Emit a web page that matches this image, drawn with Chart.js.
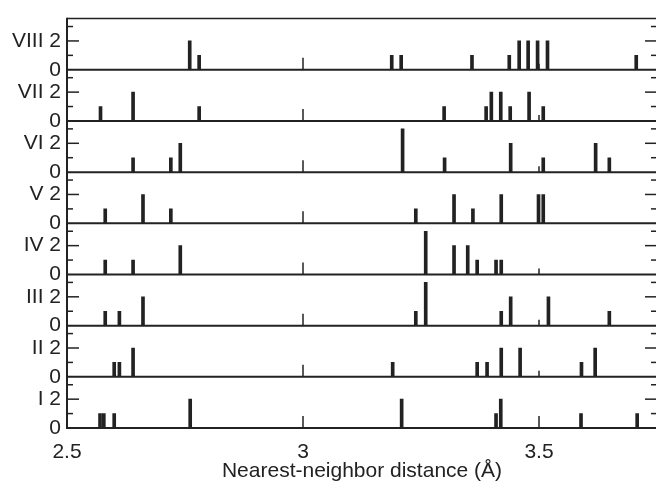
<!DOCTYPE html>
<html><head><meta charset="utf-8">
<script src="https://cdn.jsdelivr.net/npm/chart.js@4.4.1/dist/chart.umd.min.js"></script>
<style>
html,body{margin:0;padding:0;overflow:hidden;background:#fff;width:656px;height:481px}
#wrap{position:relative;width:664px;height:481px}
</style></head>
<body><div id="wrap"><canvas id="c"></canvas></div>
<script>
const panelNames = ['VIII','VII','VI','V','IV','III','II','I'];
const dist8 = [2.760,2.780,3.188,3.208,3.358,3.437,3.458,3.477,3.497,3.518,3.706];
const count8 = [2,1,1,1,1,1,2,2,2,2,1];
const dist7 = [2.571,2.640,2.780,3.299,3.388,3.399,3.419,3.439,3.479,3.509];
const count7 = [1,2,1,1,1,2,2,1,2,1];
const dist6 = [2.640,2.720,2.740,3.211,3.300,3.440,3.509,3.620,3.649];
const count6 = [1,1,2,3,1,2,1,2,1];
const dist5 = [2.581,2.661,2.720,3.239,3.320,3.360,3.420,3.499,3.509];
const count5 = [1,2,1,1,2,1,2,2,2];
const dist4 = [2.581,2.640,2.740,3.260,3.320,3.349,3.369,3.409,3.420];
const count4 = [1,1,2,3,2,2,1,1,1];
const dist3 = [2.581,2.611,2.661,3.239,3.260,3.420,3.440,3.520,3.649];
const count3 = [1,1,2,1,3,1,2,2,1];
const dist2 = [2.600,2.611,2.640,3.190,3.369,3.390,3.420,3.460,3.590,3.619];
const count2 = [1,1,2,1,1,1,2,2,1,2];
const dist1 = [2.570,2.578,2.600,2.761,3.209,3.409,3.419,3.589,3.708];
const count1 = [1,1,1,2,2,1,2,1,1];

const panelDist = [dist8,dist7,dist6,dist5,dist4,dist3,dist2,dist1];
const panelCount = [count8,count7,count6,count5,count4,count3,count2,count1];

const xTickValues = [2.5,3,3.5];
const xTickLabels = ['2.5','3','3.5'];
const yLabelTicks = [0,2];
const yMinorTicks = [1,3];
const xInnerTicks = [3,3.5];
const xTitle = 'Nearest-neighbor distance (Å)';

const INK = '#222';
const FONT = {family:'"Liberation Sans", Arial, Helvetica, sans-serif', size:21};

const datasets = panelNames.map((n,i)=>({
  type:'bar',
  label:n,
  yAxisID:'y'+i,
  data: panelDist[i].map((d,k)=>({x:d,y:panelCount[i][k]})),
  backgroundColor:INK,
  borderWidth:0,
  barThickness:3,
  grouped:false
}));

const scales = {
  x:{
    type:'linear', min:2.5, max:3.75, offset:false,
    afterBuildTicks:s=>{ s.ticks = xTickValues.map(v=>({value:v})); },
    ticks:{ font:FONT, color:INK, padding:12, maxRotation:0, autoSkip:false,
      callback:(v)=>{ const k = xTickValues.indexOf(v); return k>=0 ? xTickLabels[k] : ''; } },
    grid:{display:false, drawTicks:false},
    border:{display:false},
    title:{display:true, text:xTitle, font:FONT, color:INK, padding:{top:0,bottom:-3}},
    afterFit:s=>{ s.height = 53; }
  }
};
panelNames.forEach((n,i)=>{
  scales['y'+i] = {
    type:'linear', position:'left', stack:'panels', stackWeight:1,
    weight: panelNames.length - 1 - i,
    min:0, max:3.55,
    afterBuildTicks:s=>{ s.ticks = yLabelTicks.map(v=>({value:v})); },
    ticks:{ font:FONT, color:INK, padding:6, autoSkip:false,
      callback:(v)=> v===2 ? n+' 2' : String(v) },
    grid:{display:false, drawTicks:false},
    border:{display:false},
    afterFit:s=>{ s.width = 67; }
  };
});

const framePlugin = {
  id:'frame',
  afterDraw(chart){
    const ctx = chart.ctx, xs = chart.scales.x, a = chart.chartArea;
    const line=(x1,y1,x2,y2)=>{ctx.beginPath();ctx.moveTo(x1,y1);ctx.lineTo(x2,y2);ctx.stroke();};
    ctx.save();
    ctx.strokeStyle = INK; ctx.lineCap='butt';
    ctx.lineWidth = 1.5; line(a.left, a.top, a.right, a.top);
    ctx.lineWidth = 2; line(a.left, a.top-0.75, a.left, a.bottom+1);
    line(a.right, a.top, a.right, a.bottom);
    panelNames.forEach((n,i)=>{
      const ys = chart.scales['y'+i];
      const y0 = ys.getPixelForValue(0);
      ctx.lineWidth = 2; line(a.left, y0, a.right, y0);
      ctx.lineWidth = 1.5;
      yLabelTicks.concat(yMinorTicks).forEach(v=>{
        if (v===0) return;
        const py = ys.getPixelForValue(v);
        const major = yLabelTicks.includes(v);
        line(a.left, py, a.left + (major?12:6), py);
        line(a.right, py, a.right - (major?12:6), py);
      });
      xInnerTicks.forEach(v=>{
        const px = xs.getPixelForValue(v);
        const len = (v===3 || i===panelNames.length-1) ? 12 : 6;
        line(px, y0, px, y0 - len);
      });
    });
    ctx.restore();
  }
};

new Chart(document.getElementById('c'), {
  type:'bar',
  data:{datasets},
  options:{
    responsive:true, maintainAspectRatio:false, animation:false,
    layout:{padding:{top:12,left:0,right:7,bottom:0}},
    plugins:{legend:{display:false}, tooltip:{enabled:false}},
    scales
  },
  plugins:[framePlugin]
});
</script>
</body></html>
